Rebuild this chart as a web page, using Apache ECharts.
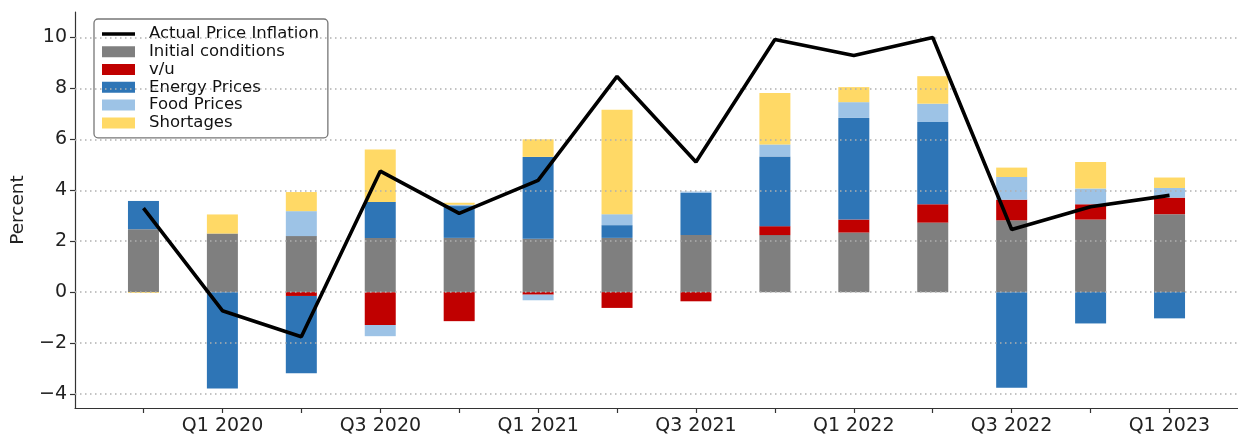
<!DOCTYPE html>
<html>
<head>
<meta charset="utf-8">
<script src="https://cdn.jsdelivr.net/npm/echarts@6/dist/echarts.min.js"></script>
<style>
html,body{margin:0;padding:0;background:#fff;}
#chart{width:1238px;height:436px;}
</style>
</head>
<body>
<div id="chart"></div>
<script>
// ---- data ----
const quarters = ['Q4 2019','Q1 2020','Q2 2020','Q3 2020','Q4 2020','Q1 2021','Q2 2021','Q3 2021','Q4 2021','Q1 2022','Q2 2022','Q3 2022','Q4 2022','Q1 2023'];
const actualInflation = [3.3, -0.73, -1.75, 4.75, 3.09, 4.39, 8.47, 5.11, 9.92, 9.29, 10.0, 2.46, 3.35, 3.8];
const initialConditions = [2.47, 2.3, 2.2, 2.13, 2.13, 2.1, 2.13, 2.24, 2.24, 2.34, 2.73, 2.82, 2.85, 3.06];
const vu = [0, 0, -0.15, -1.29, -1.14, -0.1, -0.62, -0.36, 0.35, 0.51, 0.72, 0.81, 0.6, 0.65];
const energyPrices = [1.11, -3.78, -3.04, 1.41, 1.25, 3.21, 0.5, 1.66, 2.74, 3.99, 3.23, -3.75, -1.23, -1.03];
const foodPrices = [0, 0, 0.98, -0.44, 0.05, -0.22, 0.43, 0.05, 0.47, 0.62, 0.72, 0.89, 0.62, 0.38];
const shortages = [-0.03, 0.75, 0.75, 2.06, 0.08, 0.69, 4.1, 0, 2.02, 0.59, 1.08, 0.37, 1.04, 0.41];
const yTicks = [-4, -2, 0, 2, 4, 6, 8, 10];
const labelIdx = [1, 3, 5, 7, 9, 11, 13];

const FONT = 'DejaVu Sans';
const fmtNum = v => String(v).replace('-', '\u2212');
const Y_MIN = -4.55, Y_MAX = 11;

const barSeries = [
  {name: 'Initial conditions', data: initialConditions, color: '#7f7f7f'},
  {name: 'v/u', data: vu, color: '#c00000'},
  {name: 'Energy Prices', data: energyPrices, color: '#2e75b6'},
  {name: 'Food Prices', data: foodPrices, color: '#9dc3e6'},
  {name: 'Shortages', data: shortages, color: '#ffd966'}
].map(s => ({
  name: s.name,
  type: 'bar',
  stack: 'total',
  barWidth: 31,
  xAxisIndex: 1, yAxisIndex: 1,
  z: 3,
  itemStyle: {color: s.color},
  data: s.data
}));

const chart = echarts.init(document.getElementById('chart'), null, {renderer: 'canvas'});
chart.setOption({
  animation: false,
  backgroundColor: '#fff',
  grid: [
    {left: 75, right: 0, top: 12, bottom: 28, containLabel: false},
    {left: 104, right: 29, top: 12, bottom: 28, containLabel: false}
  ],
  legend: {
    orient: 'vertical',
    left: 94, top: 19,
    padding: [6, 9, 6, 8],
    itemGap: 0,
    itemWidth: 33,
    itemHeight: 11,
    borderColor: '#777',
    borderWidth: 1.3,
    borderRadius: 4,
    backgroundColor: 'rgba(255,255,255,0.85)',
    textStyle: {fontFamily: FONT, fontSize: 16.5, color: '#111', lineHeight: 17.8, padding: [0, 0, 0, 9]},
    data: [
      {name: 'Actual Price Inflation', icon: 'path://M0,0 L34,0 L34,3.6 L0,3.6 Z', itemStyle: {color: '#000'}},
      {name: 'Initial conditions', icon: 'rect'},
      {name: 'v/u', icon: 'rect'},
      {name: 'Energy Prices', icon: 'rect'},
      {name: 'Food Prices', icon: 'rect'},
      {name: 'Shortages', icon: 'rect'}
    ]
  },
  xAxis: [
    {
      type: 'value',
      gridIndex: 0,
      min: -0.87, max: 13.87,
      splitLine: {show: false},
      axisLine: {show: true, onZero: false, lineStyle: {color: '#333', width: 1.2}},
      axisTick: {show: true, length: 5, lineStyle: {color: '#333', width: 1.2}, customValues: quarters.map((q, i) => i)},
      axisLabel: {
        show: true, margin: 9, fontFamily: FONT, fontSize: 19, color: '#222',
        customValues: labelIdx,
        formatter: v => quarters[Math.round(v)] || ''
      }
    },
    {
      type: 'category',
      gridIndex: 1,
      data: quarters,
      boundaryGap: true,
      show: false
    }
  ],
  yAxis: [
    {
      type: 'value',
      gridIndex: 0,
      min: Y_MIN, max: Y_MAX,
      name: 'Percent',
      nameLocation: 'middle',
      nameGap: 44,
      nameTextStyle: {fontFamily: FONT, fontSize: 18.5, color: '#222'},
      splitLine: {show: false},
      axisLine: {show: true, onZero: false, lineStyle: {color: '#333', width: 1.2}},
      axisTick: {show: true, length: 5, lineStyle: {color: '#333', width: 1.2}, customValues: yTicks},
      axisLabel: {
        show: true, margin: 8, fontFamily: FONT, fontSize: 19, color: '#222',
        customValues: yTicks,
        formatter: v => fmtNum(v)
      }
    },
    {
      type: 'value',
      gridIndex: 1,
      min: Y_MIN, max: Y_MAX,
      show: false,
      splitLine: {show: false}
    }
  ],
  series: [
    {
      name: 'grid',
      type: 'line',
      xAxisIndex: 0, yAxisIndex: 0,
      data: [],
      z: 1,
      silent: true,
      markLine: {
        silent: true,
        symbol: ['none', 'none'],
        label: {show: false},
        lineStyle: {color: '#b0b0b0', width: 1.5, type: [1.5, 3.5]},
        data: yTicks.map(t => ({yAxis: t}))
      }
    },
    ...barSeries,
    {
      name: 'Actual Price Inflation',
      type: 'line',
      xAxisIndex: 1, yAxisIndex: 1,
      z: 10,
      symbol: 'none',
      lineStyle: {color: '#000', width: 3.6},
      itemStyle: {color: '#000'},
      data: actualInflation
    }
  ]
});
</script>
</body>
</html>
